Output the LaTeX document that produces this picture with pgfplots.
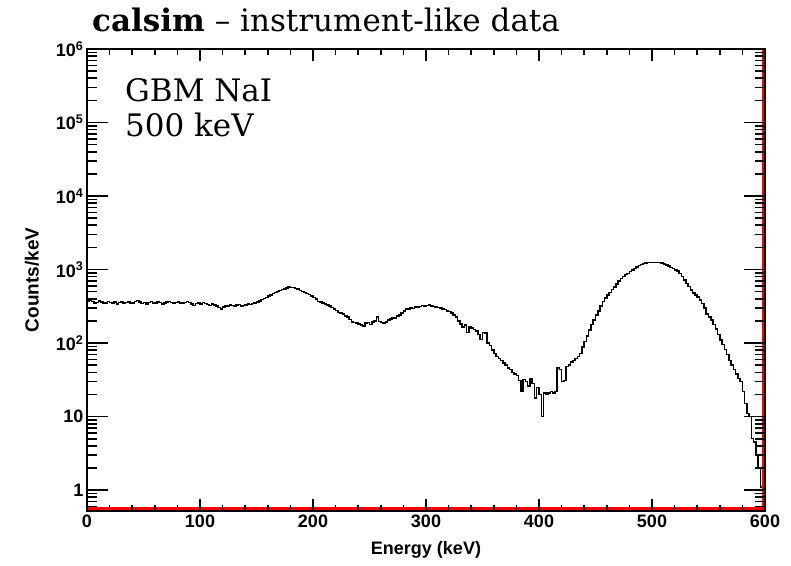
\documentclass[border=0pt]{standalone}
\usepackage{fontspec}
\setmainfont{DejaVu Serif}
\newfontfamily\lab{Liberation Sans}
\usepackage{pgfplots}
\usepackage{pgfplotstable}
\pgfplotsset{compat=1.18}
\pgfplotstableread{
E C
0 372
2 380
4 365
6 350
8 358
10 372
12 360
14 345
16 352
18 366
20 358
22 348
24 362
26 340
28 355
30 368
32 350
34 356
36 362
38 345
40 352
42 366
44 380
46 360
48 348
50 355
52 342
54 358
56 365
58 352
60 348
62 360
64 356
66 340
68 352
70 362
72 370
74 355
76 346
78 358
80 362
82 350
84 344
86 356
88 368
90 355
92 338
94 322
96 345
98 350
100 342
102 355
104 348
106 335
108 325
110 340
112 332
114 318
116 305
118 292
120 310
122 325
124 318
126 330
128 322
130 312
132 328
134 335
136 318
138 325
140 330
142 342
144 335
146 345
148 350
150 362
152 375
154 392
156 405
158 420
160 438
162 450
164 470
166 488
168 505
170 520
172 532
174 548
176 560
178 575
180 568
182 572
184 555
186 540
188 522
190 505
192 485
194 470
196 455
198 440
200 420
202 400
204 370
206 360
208 350
210 340
212 330
214 318
216 305
218 290
220 278
222 262
224 255
226 248
228 235
230 225
232 208
234 195
236 192
238 188
240 182
242 176
244 170
246 188
248 192
250 180
252 195
254 200
256 228
258 198
260 192
262 188
264 195
266 205
268 212
270 220
272 218
274 232
276 240
278 258
280 275
282 290
284 288
286 300
288 296
290 310
292 305
294 312
296 322
298 318
300 325
302 330
304 318
306 315
308 310
310 306
312 300
314 292
316 285
318 275
320 268
322 255
324 240
326 225
328 200
330 182
332 165
334 175
336 140
338 168
340 160
342 152
344 145
346 130
348 112
350 140
352 138
354 100
356 92
358 80
360 72
362 66
364 62
366 58
368 54
370 50
372 46
374 44
376 40
378 38
380 36
382 31
384 22
386 32
388 30
390 26
392 33
394 28
396 18
398 25
400 20
402 10
404 21
406 20
408 21
410 22
412 21
414 22
416 46
418 44
420 30
422 31
424 48
426 50
428 55
430 58
432 62
434 66
436 72
438 88
440 105
442 125
444 150
446 178
448 205
450 240
452 275
454 320
456 365
458 410
460 450
462 490
464 535
466 580
468 640
470 700
472 750
474 800
476 850
478 890
480 940
482 990
484 1040
486 1090
488 1140
490 1170
492 1200
494 1220
496 1240
498 1250
500 1255
502 1250
504 1248
506 1240
508 1220
510 1190
512 1150
514 1110
516 1060
518 1030
520 990
522 950
524 890
526 800
528 720
530 650
532 590
534 530
536 480
538 450
540 425
542 385
544 345
546 300
548 250
550 225
552 205
554 180
556 155
558 130
560 110
562 95
564 82
566 70
568 58
570 50
572 44
574 38
576 33
578 30
580 22
582 15
584 11
586 10
588 5
590 4.5
592 3
594 2
596 1.1
598 0.4
600 0.4
}\spec
\begin{document}
\begin{tikzpicture}
\begin{axis}[name=A,
    scale only axis, width=678pt, height=462pt,
    xmin=0, xmax=600, ymode=log, ymin=0.52, ymax=1e6,
    axis on top,
    tick align=inside,
    axis line style={line width=1.3pt},
    ytick style={black, line width=1.6pt, /pgfplots/major tick length=21pt, /pgfplots/minor tick length=10pt},
    xtick style={black, line width=1.6pt, /pgfplots/major tick length=12pt, /pgfplots/minor tick length=6pt},
    /pgf/number format/assume math mode=true,
    ticklabel style={font=\lab\bfseries\fontsize{18}{20}\selectfont},
    xtick={0,100,200,300,400,500,600},
    minor xtick={20,40,60,80,120,140,160,180,220,240,260,280,320,340,360,380,420,440,460,480,520,540,560,580},
    xtick pos=both,
    ytick={1,10,100,1000,10000,100000,1000000},
    yticklabels={1,10,10\textsuperscript{2},10\textsuperscript{3},10\textsuperscript{4},10\textsuperscript{5},10\textsuperscript{6}},
    minor ytick={0.6,0.7,0.8,0.9,2,3,4,5,6,7,8,9,20,30,40,50,60,70,80,90,200,300,400,500,600,700,800,900,2000,3000,4000,5000,6000,7000,8000,9000,20000,30000,40000,50000,60000,70000,80000,90000,200000,300000,400000,500000,600000,700000,800000,900000},
    ytick pos=both,
  ]
  \addplot[black, line width=1.5pt, const plot mark left] table[x=E, y=C] {\spec};
  \addplot[red, line width=2.2pt] coordinates {(0,0.563) (597.9,0.563) (597.9,1e6)};
\end{axis}
\node[rotate=90, font=\lab\bfseries\fontsize{19}{22}\selectfont] at ([xshift=-55pt]A.west) {Counts/keV};
\node[anchor=base, font=\lab\bfseries\fontsize{18}{20}\selectfont] at ([yshift=-44pt]A.south) {Energy (keV)};
\node[anchor=base west, inner sep=0, font=\fontsize{31}{36}\selectfont] at ([xshift=5pt,yshift=17pt]A.north west) {\textbf{calsim} – instrument-like data};
\node[anchor=base west, inner sep=0, font=\fontsize{31}{36}\selectfont] at ([xshift=38pt,yshift=-53pt]A.north west) {GBM NaI};
\node[anchor=base west, inner sep=0, font=\fontsize{31}{36}\selectfont] at ([xshift=38pt,yshift=-88pt]A.north west) {500 keV};
\pgfresetboundingbox
\path[use as bounding box] ([xshift=-87pt,yshift=-55pt]A.south west) rectangle ([xshift=26pt,yshift=49pt]A.north east);
\end{tikzpicture}
\end{document}
